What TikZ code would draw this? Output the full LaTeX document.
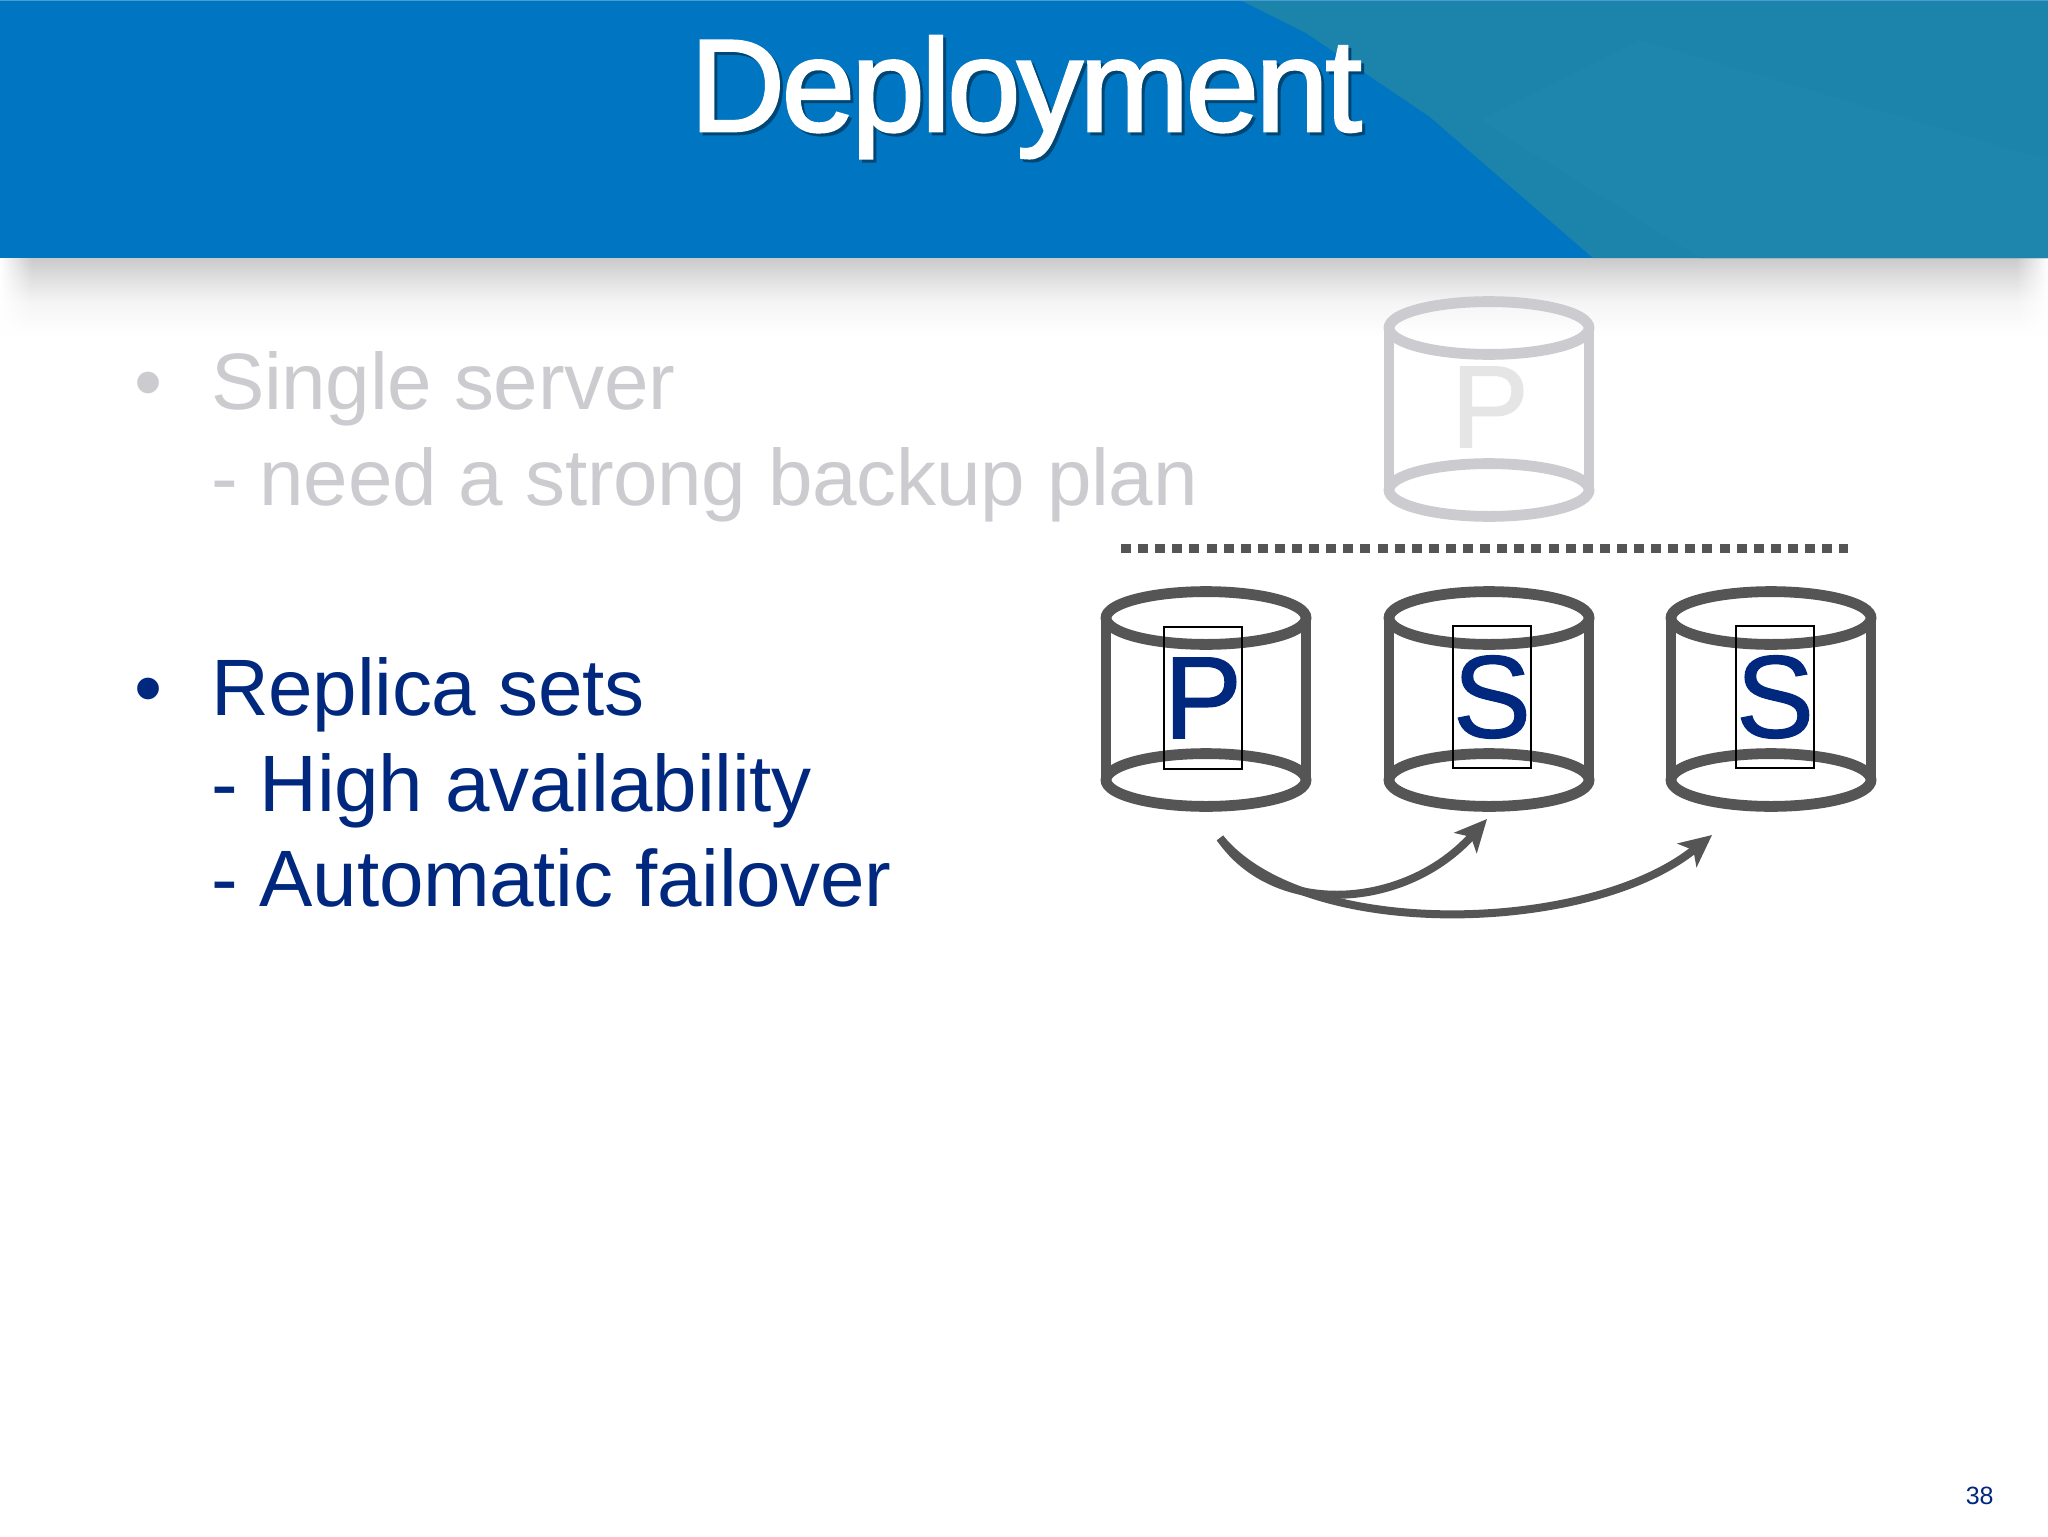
\documentclass[tikz,border=0pt]{standalone}
\usepackage{fontspec}
\setmainfont{Liberation Sans}
\usetikzlibrary{arrows.meta,fadings}
\definecolor{hblue}{HTML}{0075C2}
\definecolor{hteal}{HTML}{1C84AB}
\definecolor{hfacet}{HTML}{1E86AC}
\definecolor{navy}{HTML}{00287F}
\definecolor{fadegray}{HTML}{CCCCD0}
\definecolor{cyldark}{HTML}{555555}
\newcommand{\cylinder}[3]{%
  \draw[cylline,#3] (#1-100,#2) -- (#1-100,#2+162);
  \draw[cylline,#3] (#1+100,#2) -- (#1+100,#2+162);
  \draw[cylline,#3] (#1,#2) ellipse [x radius=50pt, y radius=13.2pt];
  \draw[cylline,#3] (#1,#2+162) ellipse [x radius=50pt, y radius=13.2pt];
}
\tikzset{
  cylline/.style={line width=5.4pt},
  bodytext/.style={anchor=base west,inner sep=0pt,outer sep=0pt,font=\fontsize{40}{48}\selectfont\addfontfeature{LetterSpace=-0.3}},
  letterbox/.style={draw=black,line width=1pt,inner sep=0pt,outer sep=0pt,minimum width=39pt,minimum height=71pt,text=navy,font=\fontsize{58.6}{70}\selectfont\addfontfeature{FakeBold=1}},
  replica/.style={-{Stealth[length=16pt,width=15pt,inset=4pt]},draw=cyldark,line width=4pt}
}
\begin{document}
\begin{tikzpicture}[x=0.5pt,y=-0.5pt]
\useasboundingbox (0,0) rectangle (2048,1536);
\fill[white] (0,0) rectangle (2048,1536);
% header shadow
\shade[top color=black!21,bottom color=black!14] (0,258) rectangle (2048,274);
\shade[top color=black!14,bottom color=black!4] (0,274) rectangle (2048,302);
\shade[top color=black!4,bottom color=white] (0,302) rectangle (2048,336);
\fill[white,path fading=east] (0,258) rectangle (32,337);
\fill[white,path fading=west] (2016,258) rectangle (2048,337);
% header
\fill[hblue] (0,0) rectangle (2048,258);
\fill[hteal] (1240,0) -- (2048,0) -- (2048,258) -- (1593,258) -- (1430,117) -- (1306,33) -- cycle;
\fill[hfacet] (1480,120) -- (1640,40) -- (2048,160) -- (2048,258) -- (1700,258) -- cycle;
\fill[hblue!72!white] (0,0) rectangle (2048,1.5);
\node[anchor=base,inner sep=0pt,text=black!40!hblue,font=\fontsize{65.6}{78}\selectfont] (titleshadow) at (1029,134) {\addfontfeature{LetterSpace=-2.4,FakeBold=2}Deployment};
\node[anchor=base,inner sep=0pt,text=white,font=\fontsize{65.6}{78}\selectfont] (title) at (1026,131) {\addfontfeature{LetterSpace=-2.4,FakeBold=2}Deployment};
% text
\node[bodytext,text=fadegray] (bulA) at (134,409) {•};
\node[bodytext,text=fadegray] (lineA) at (211,409) {Single server};
\node[bodytext,text=fadegray] (lineB) at (211,505) {- need a strong backup plan};
\node[bodytext,text=navy] (bulB) at (134,715.5) {•};
\node[bodytext,text=navy] (lineC) at (211,715.5) {Replica sets};
\node[bodytext,text=navy] (lineD) at (211,811) {- High availability};
\node[bodytext,text=navy] (lineE) at (211,906) {- Automatic failover};
% old single server
\cylinder{1489}{328}{draw=fadegray}
\node[inner sep=0pt,text=black!10,font=\fontsize{58.6}{70}\selectfont\addfontfeature{FakeBold=1}] (oldP) at (1490,407) {P};
% divider
\coordinate (divL) at (1121,548.5);
\coordinate (divR) at (1848,548.5);
\draw[draw=cyldark,line width=4.2pt,dash pattern=on 5pt off 3.55pt] (divL) -- (divR);
% replica set
\cylinder{1206}{618}{draw=cyldark}
\cylinder{1489}{618}{draw=cyldark}
\cylinder{1771}{618}{draw=cyldark}
\node[letterbox] (primary) at (1203,698) {P};
\node[letterbox] (secA) at (1492,697) {S};
\node[letterbox] (secB) at (1775,697) {S};
% replication arrows
\coordinate (from) at (1220,838);
\coordinate (toA) at (1487,819);
\coordinate (toB) at (1712,835);
\draw[replica] (from) .. controls (1275,918) and (1405,910) .. (toA);
\draw[replica] (from) .. controls (1305,942) and (1590,934) .. (toB);
% page number
\node[anchor=base east,inner sep=0pt,text=navy,font=\fontsize{12.5}{15}\selectfont] (pageno) at (1994,1504) {38};
\end{tikzpicture}
\end{document}
